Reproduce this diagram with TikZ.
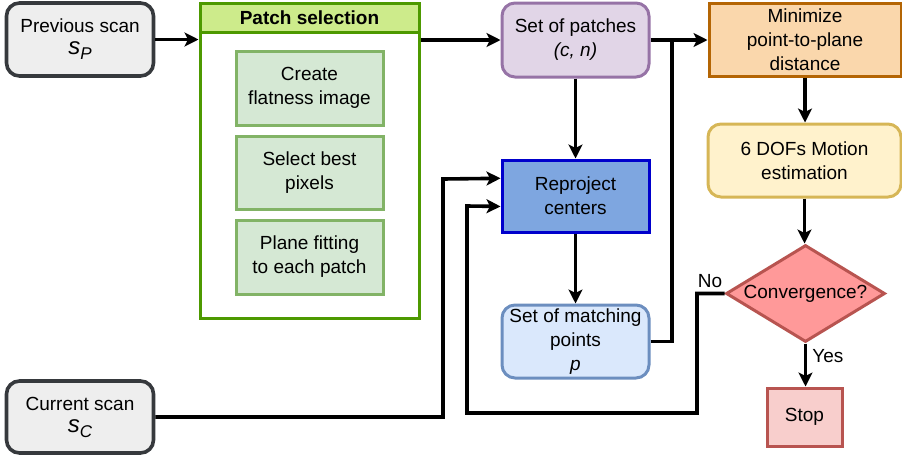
\documentclass[tikz,border=0pt]{standalone}
\usepackage{fontspec}
\setmainfont{Liberation Sans}
\usetikzlibrary{shapes.geometric,arrows.meta,calc}
\definecolor{grayfill}{HTML}{EEEEEE}
\definecolor{graydraw}{HTML}{36393D}
\definecolor{grncont}{HTML}{4D9900}
\definecolor{grnhead}{HTML}{CDEB8B}
\definecolor{grnfill}{HTML}{D5E8D4}
\definecolor{grndraw}{HTML}{82B366}
\definecolor{purfill}{HTML}{E1D5E7}
\definecolor{purdraw}{HTML}{9673A6}
\definecolor{orafill}{HTML}{FAD7AC}
\definecolor{oradraw}{HTML}{B46504}
\definecolor{yelfill}{HTML}{FFF2CC}
\definecolor{yeldraw}{HTML}{D6B656}
\definecolor{bluefill}{HTML}{7EA6E0}
\definecolor{bluedraw}{HTML}{0000CC}
\definecolor{lbfill}{HTML}{DAE8FC}
\definecolor{lbdraw}{HTML}{6C8EBF}
\definecolor{redfill}{HTML}{FF9999}
\definecolor{reddraw}{HTML}{B85450}
\definecolor{pinkfill}{HTML}{F8CECC}
\newcommand{\scanvar}[1]{{\fontsize{24}{24}\selectfont\itshape s}{\fontsize{17}{17}\selectfont\itshape\raisebox{-5pt}{#1}}}
\begin{document}
\begin{tikzpicture}[x=1pt,y=-1pt,
  every node/.style={font=\fontsize{19}{24}\selectfont, align=center, inner sep=0pt},
  box/.style={draw, line width=3pt, minimum width=147pt, minimum height=73pt},
  rbox/.style={box, rounded corners=13pt},
  conn/.style={line width=3.6pt, draw=black},
  arr/.style={conn, -{Stealth[length=14pt,width=14pt,inset=3.5pt]}},
  lbl/.style={font=\fontsize{19}{22}\selectfont}
]
\useasboundingbox (0,0) rectangle (902,459);

% scans
\node[rbox, fill=grayfill, draw=graydraw, line width=3.6pt] (prev) at (80,39.5) {Previous scan\\[-2pt]\scanvar{P}};
\node[rbox, fill=grayfill, draw=graydraw, line width=3.6pt, minimum height=72pt] (cur) at (80,417) {Current scan\\[-2pt]\scanvar{C}};

% patch selection container
\node[draw=grncont, line width=3pt, fill=white, minimum width=219pt, minimum height=315pt] (ps) at (309.5,160.5) {};
\node[draw=grncont, line width=3pt, fill=grnhead, minimum width=219pt, minimum height=29pt, font=\bfseries\fontsize{19}{24}\selectfont] (psh) at (309.5,17.5) {Patch selection};
\node[box, fill=grnfill, draw=grndraw, minimum height=74pt] (create) at (309.5,88) {Create\\flatness image};
\node[box, fill=grnfill, draw=grndraw] (select) at (309.5,172.5) {Select best\\pixels};
\node[box, fill=grnfill, draw=grndraw, minimum height=74pt] (plane) at (309.5,257) {Plane fitting\\to each patch};

% right part
\node[rbox, fill=purfill, draw=purdraw, minimum height=74pt] (sp) at (575.5,40) {Set of patches\\\textit{(c, n)}};
\node[box, fill=orafill, draw=oradraw, minimum width=192pt] (mini) at (805,39.5) {Minimize\\point-to-plane\\distance};
\node[rbox, fill=yelfill, draw=yeldraw, minimum width=193pt] (dof) at (804.5,160.5) {6 DOFs Motion\\estimation};
\node[box, fill=bluefill, draw=bluedraw, minimum height=72pt] (rp) at (575.5,196) {Reproject\\centers};
\node[rbox, fill=lbfill, draw=lbdraw] (mp) at (575.5,341.5) {Set of matching\\points\\\textit{p}};
\node[diamond, draw=reddraw, fill=redfill, line width=3pt, minimum width=159pt, minimum height=97pt] (conv) at (805.5,293.5) {};
\node (convt) at (conv) {Convergence?};
\node[box, fill=pinkfill, draw=reddraw, minimum width=75pt, minimum height=58pt] (stop) at (804.5,417) {Stop};

% coordinates
\coordinate (j) at (672,40);
\coordinate (r1) at ($(rp.north west)!0.264!(rp.south west)$);
\coordinate (r2) at ($(rp.north west)!0.639!(rp.south west)$);

% connectors
\draw[arr] (prev.east) -- (prev.east -| ps.west);
\draw[arr] (ps.east |- sp.west) -- (sp.west);
\draw[arr] (sp.east) -- (sp.east -| mini.west);
\draw[conn] (mp.east) -| (j);
\draw[arr] (sp.south) -- (rp.north);
\draw[arr] (cur.east) -| (443,179) -- (r1);
\draw[arr] (conv.west) -| (697,413) -| (467,206) -- (r2);
\draw[arr] (rp.south) -- (mp.north);
\draw[arr] (mini.south) -- (mini.south |- dof.north);
\draw[arr] (dof.south) -- (dof.south |- conv.north);
\draw[arr] (conv.south) -- (conv.south |- stop.north) node[lbl, pos=0.3, right=5pt] {Yes};
\node[lbl] (no) at (710,281) {No};
\end{tikzpicture}
\end{document}
